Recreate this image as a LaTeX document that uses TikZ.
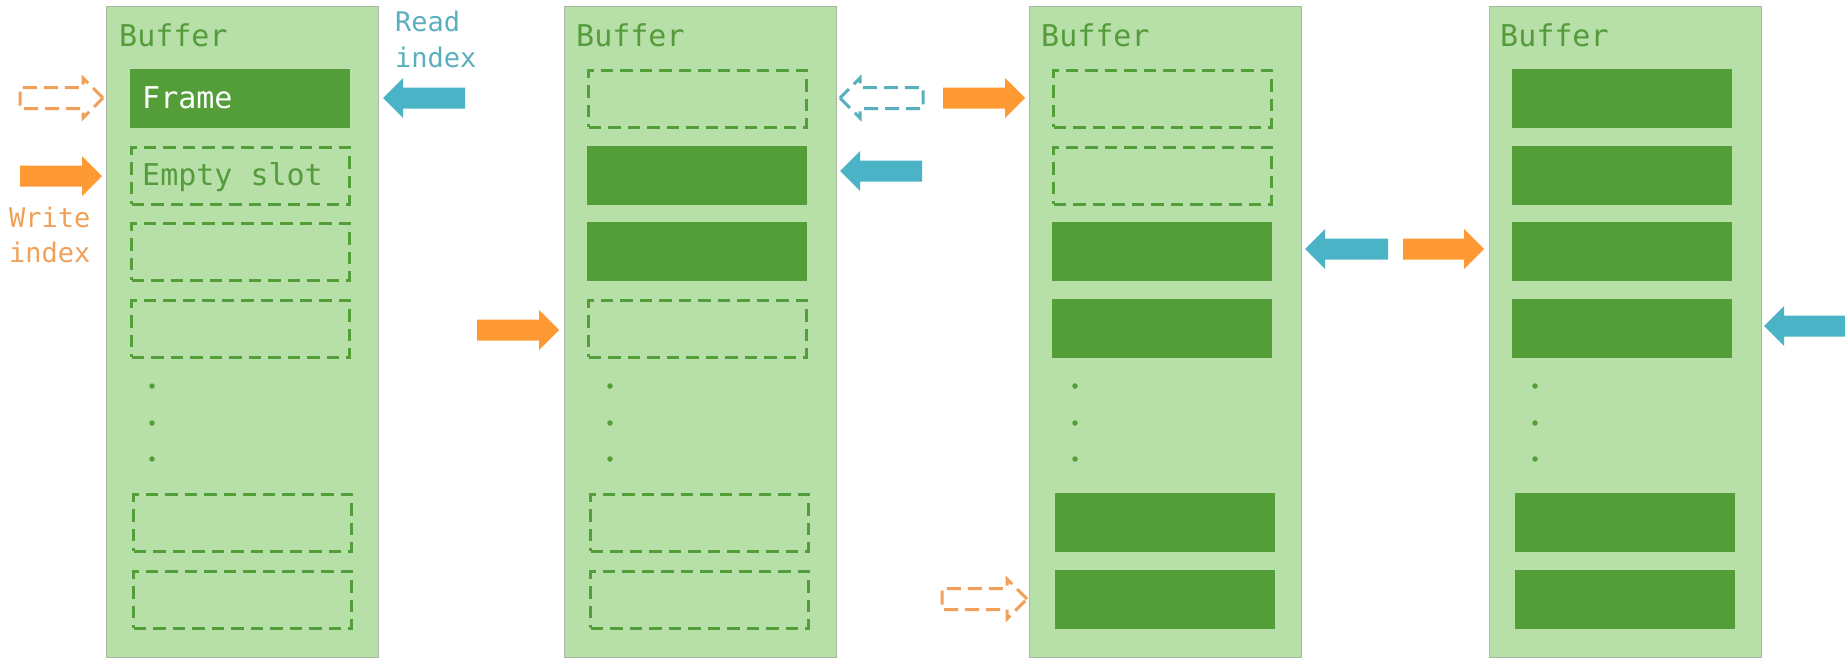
\documentclass[tikz,border=0pt]{standalone}
\usepackage{fontspec}
\setmonofont{DejaVu Sans Mono}
\definecolor{bufbg}{HTML}{B7E0A8}
\definecolor{bufedge}{HTML}{A8B8A2}
\definecolor{slotgreen}{HTML}{539E39}
\definecolor{labelgreen}{HTML}{559B3C}
\definecolor{wrorange}{HTML}{FF9933}
\definecolor{wrlight}{HTML}{F0A05A}
\definecolor{rdblue}{HTML}{4BB3C6}
\definecolor{rdlight}{HTML}{5AAFBF}
\tikzset{
  buffer/.style={fill=bufbg, draw=bufedge, line width=1pt, minimum width=272pt,
    minimum height=651pt, inner sep=0pt, anchor=north west},
  fullslot/.style={fill=slotgreen, draw=none, minimum width=220pt, minimum height=58.5pt,
    inner sep=0pt, anchor=north west},
  emptyslot/.style={draw=slotgreen, line width=3.2pt, dash pattern=on 12.5pt off 7pt,
    minimum width=218pt, minimum height=56.5pt, inner sep=0pt, anchor=north west},
  buftitle/.style={font=\ttfamily\fontsize{30}{36}\selectfont, text=labelgreen,
    inner sep=0pt, anchor=base west},
  slottext/.style={font=\ttfamily\fontsize{30}{36}\selectfont, inner sep=0pt, anchor=base west},
  idxtext/.style={font=\ttfamily\fontsize{27}{36}\selectfont, inner sep=0pt, anchor=base west},
  % block arrow pointing right, tip at the origin, #1 = total length
  blockarrow/.pic={
    \path[pic actions] (0,0) -- (-20,-20) -- (-20,-10.5) -- (-#1,-10.5) -- (-#1,10.5)
      -- (-20,10.5) -- (-20,20) -- cycle;
  },
  writearrow/.style={fill=wrorange, draw=none},
  readarrow/.style={fill=rdblue, draw=none},
  oldwrite/.style={draw=wrlight, line width=3pt, dash pattern=on 14pt off 7pt, fill=none},
  oldread/.style={draw=rdlight, line width=3pt, dash pattern=on 14pt off 7pt, fill=none},
  dot/.style={circle, fill=slotgreen, inner sep=0pt, minimum size=5.5pt}
}
\begin{document}
\begin{tikzpicture}[x=1pt, y=-1pt]
\useasboundingbox (0,0) rectangle (1845,659);
\clip (0,0) rectangle (1845,659);

% the four buffers
\node[buffer] (b1) at (106,6) {};
\node[buffer] (b2) at (564,6) {};
\node[buffer] (b3) at (1029,6) {};
\node[buffer] (b4) at (1489,6) {};

\node[buftitle] (t1) at (119,46) {Buffer};
\node[buftitle] (t2) at (576,46) {Buffer};
\node[buftitle] (t3) at (1041,46) {Buffer};
\node[buftitle] (t4) at (1500,46) {Buffer};

% slots of buffer 1
\foreach \r/\ty/\dx/\st in {1/69/24/fullslot,2/146/24/emptyslot,3/222/24/emptyslot,
    4/299/24/emptyslot,5/493/26/emptyslot,6/570/26/emptyslot}
  \node[\st] (b1s\r) at (106+\dx,\ty) {};
% slots of buffer 2
\foreach \r/\ty/\dx/\st in {1/69/23/emptyslot,2/146/23/fullslot,3/222/23/fullslot,
    4/299/23/emptyslot,5/493/25/emptyslot,6/570/25/emptyslot}
  \node[\st] (b2s\r) at (564+\dx,\ty) {};
% slots of buffer 3
\foreach \r/\ty/\dx/\st in {1/69/23/emptyslot,2/146/23/emptyslot,3/222/23/fullslot,
    4/299/23/fullslot,5/493/26/fullslot,6/570/26/fullslot}
  \node[\st] (b3s\r) at (1029+\dx,\ty) {};
% slots of buffer 4
\foreach \r/\ty/\dx/\st in {1/69/23/fullslot,2/146/23/fullslot,3/222/23/fullslot,
    4/299/23/fullslot,5/493/26/fullslot,6/570/26/fullslot}
  \node[\st] (b4s\r) at (1489+\dx,\ty) {};

% ellipsis dots
\foreach \bx/\n in {106/1,564/2,1029/3,1489/4}
  \foreach \dy/\k in {386/1,423/2,459/3}
    \node[dot] (d\n\k) at (\bx+46,\dy) {};

% slot labels
\node[slottext, text=white] (frame) at (142,108) {Frame};
\node[slottext, text=labelgreen] (empty) at (142,185) {Empty slot};

% index labels
\node[idxtext, text=rdlight] (readlbl) at (395,31) {Read};
\node[idxtext, text=rdlight] (readlbl2) at (395,67) {index};
\node[idxtext, text=wrlight] (writelbl) at (9,227) {Write};
\node[idxtext, text=wrlight] (writelbl2) at (9,262) {index};

% index arrows, buffer 1
\pic[oldwrite] (w1old) at (103,98) {blockarrow=83};
\pic[writearrow] (w1) at (102,176) {blockarrow=82};
\pic[readarrow, rotate=180] (r1) at (383,98) {blockarrow=82};
% buffer 2
\pic[writearrow] (w2) at (559,330) {blockarrow=82};
\pic[oldread, rotate=180] (r2old) at (840,98) {blockarrow=83};
\pic[readarrow, rotate=180] (r2) at (840,171) {blockarrow=82};
% buffer 3
\pic[writearrow] (w3) at (1025,98) {blockarrow=82};
\pic[oldwrite] (w3old) at (1027,599) {blockarrow=85};
\pic[readarrow, rotate=180] (r3) at (1305,249) {blockarrow=83};
% buffer 4
\pic[writearrow] (w4) at (1484,249) {blockarrow=81};
\pic[readarrow, rotate=180] (r4) at (1764,326) {blockarrow=95};
\end{tikzpicture}
\end{document}
